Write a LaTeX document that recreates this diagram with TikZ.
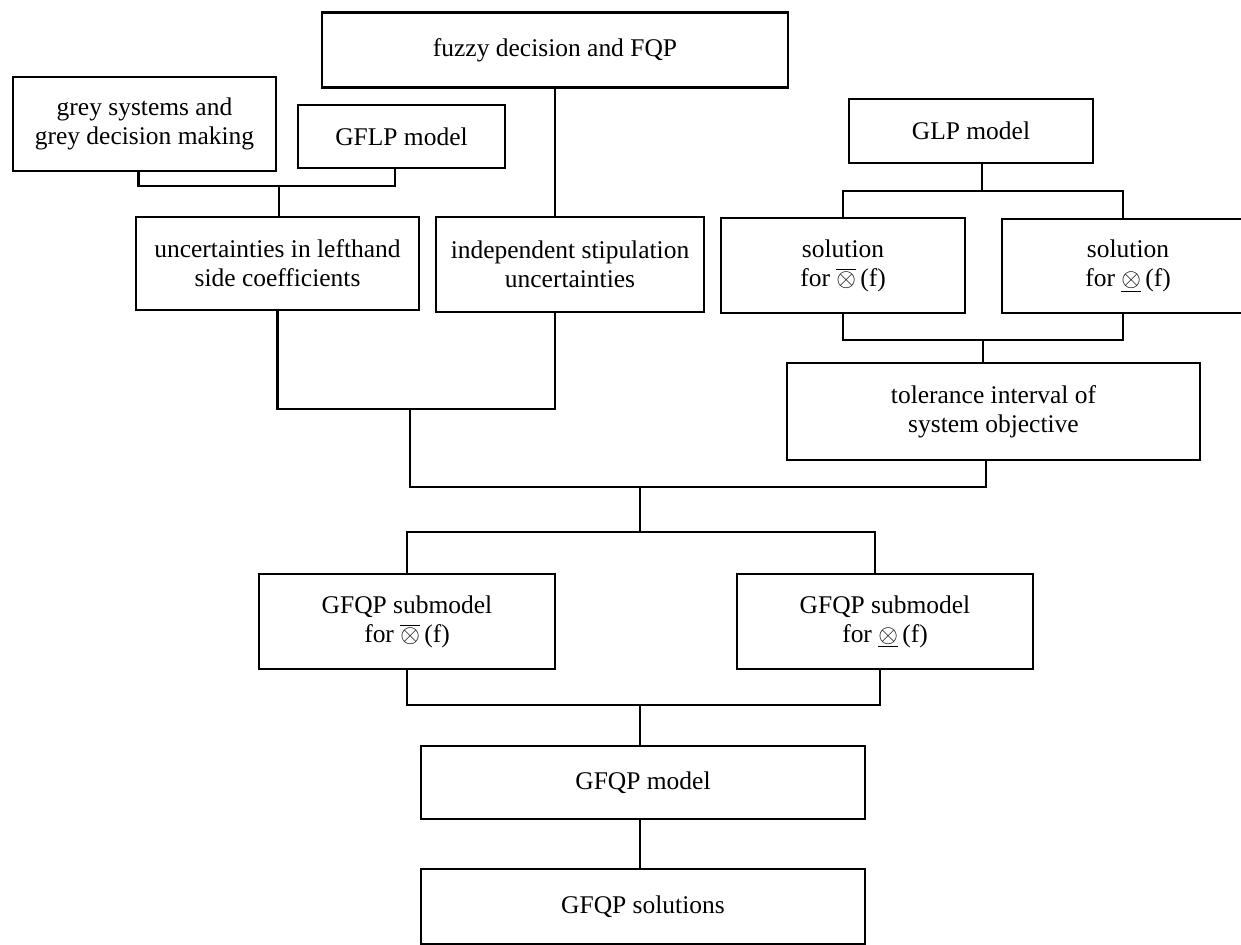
\documentclass[tikz,border=0pt]{standalone}
\usepackage{fontspec}
\setmainfont{Liberation Serif}
\usepackage{tikz}

\begin{document}
\begin{tikzpicture}[x=0.2mm,y=-0.2mm,line width=1.2pt,
  box/.style={draw,fill=white,align=center,inner sep=2pt,
    font=\fontsize{14.5}{16.5}\selectfont}]
\useasboundingbox (0,0) rectangle (1241,945);

% upper left
\node[box,minimum width=93.2mm,minimum height=15mm] (fuzzy) at (555,50) {fuzzy decision and FQP};
\node[box,minimum width=52.6mm,minimum height=18.8mm] (grey) at (144.5,124) {grey systems and\\grey decision making};
\node[box,minimum width=41.4mm,minimum height=12.6mm] (gflp) at (401.5,136.5) {GFLP model};
\node[box,minimum width=56.6mm,minimum height=18.6mm] (unc) at (277.5,263.5) {uncertainties in lefthand\\side coefficients};
\node[box,minimum width=53.6mm,minimum height=19mm] (indep) at (570,264.5) {independent stipulation\\uncertainties};

% upper right
\node[box,minimum width=48.8mm,minimum height=12.8mm] (glp) at (971,131) {GLP model};
\node[box,minimum width=48.8mm,minimum height=19mm] (soll) at (843,265.5) {solution\\for $\overline{\otimes}$\,(f)};
\node[box,minimum width=50.4mm,minimum height=18.8mm] (solr) at (1128,266) {solution\\for $\underline{\otimes}$\,(f)};
\node[box,minimum width=82.6mm,minimum height=19.4mm] (tol) at (993.5,411.5) {tolerance interval of\\system objective};

% lower part
\node[box,minimum width=59.2mm,minimum height=19mm] (subl) at (407,621.5) {GFQP submodel\\for $\overline{\otimes}$\,(f)};
\node[box,minimum width=59.2mm,minimum height=19mm] (subr) at (885,621.5) {GFQP submodel\\for $\underline{\otimes}$\,(f)};
\node[box,minimum width=88.8mm,minimum height=14.6mm] (model) at (643,782.5) {GFQP model};
\node[box,minimum width=88.8mm,minimum height=15mm] (sols) at (643,906.5) {GFQP solutions};

% junctions
\coordinate (b1) at (279,186);
\coordinate (b2) at (410,409);
\coordinate (b3) at (640,487);
\coordinate (b4) at (640,532);
\coordinate (b5) at (640,705);
\coordinate (b6) at (982,191);
\coordinate (b7) at (983,340);

\draw ([xshift=-1.2mm]grey.south) |- (b1) -| ([xshift=-1.3mm]gflp.south);
\draw (b1) -- (b1 |- unc.north);
\draw (fuzzy.south) -- (fuzzy.south |- indep.north);
\draw (unc.south) |- (b2) -| (fuzzy.south |- indep.south);
\draw (b2) -- (b2 |- b3) -| ([xshift=-1.5mm]tol.south);
\draw (b3) -- (b4);
\draw (subl.north) |- (b4) -| ([xshift=-2mm]subr.north);
\draw (subl.south) |- (b5) -| ([xshift=-1mm]subr.south);
\draw (b5) -- (b5 |- model.north);
\draw (model.south -| b5) -- (b5 |- sols.north);

\draw (glp.south -| b6) -- (b6);
\draw (soll.north) |- (b6) -| ([xshift=-1mm]solr.north);
\draw (soll.south) |- (b7) -| ([xshift=-1mm]solr.south);
\draw (b7) -- (b7 |- tol.north);
\end{tikzpicture}
\end{document}
